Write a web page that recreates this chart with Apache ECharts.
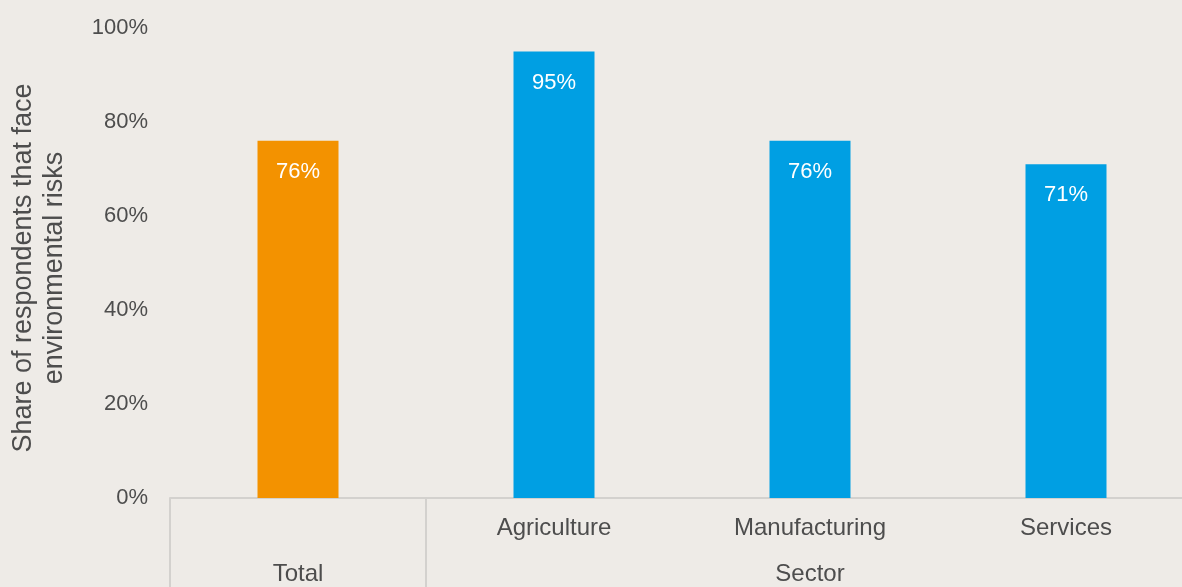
<!DOCTYPE html>
<html>
<head>
<meta charset="utf-8">
<script src="https://cdn.jsdelivr.net/npm/echarts@6/dist/echarts.min.js"></script>
<style>
  html, body { margin: 0; padding: 0; background: #EEEBE7; }
  #chart { width: 1182px; height: 587px; }
</style>
</head>
<body>
<div id="chart"></div>
<script>
// Survey shares by sector
const categories = ['', 'Agriculture', 'Manufacturing', 'Services'];
const groupLabels = ['Total', '', 'Sector', ''];
const values = [76, 95, 76, 71];
const yTicks = [0, 20, 40, 60, 80, 100];

const ORANGE = '#F39200';
const BLUE = '#009FE3';
const TEXT = '#4D4D4D';
const LINE = '#D3D1CE';

const chart = echarts.init(document.getElementById('chart'));

chart.setOption({
  backgroundColor: '#EEEBE7',
  textStyle: { fontFamily: 'Liberation Sans, Arial, sans-serif' },
  grid: {
    left: 170, top: 28, bottom: 89, width: 1024,
    containLabel: false,
    outerBoundsMode: 'none'
  },
  xAxis: [
    {
      type: 'category',
      data: categories,
      position: 'bottom',
      axisLine: { show: true, lineStyle: { color: LINE, width: 2 } },
      axisTick: { show: false },
      axisLabel: { color: TEXT, fontSize: 24, margin: 18, interval: 0 }
    },
    {
      type: 'category',
      data: groupLabels,
      position: 'bottom',
      offset: 0,
      axisLine: { show: false },
      axisTick: {
        show: true,
        length: 100,
        interval: function (i) { return i === 0 || i === 1; },
        lineStyle: { color: LINE, width: 2 }
      },
      axisLabel: { color: TEXT, fontSize: 24, margin: 64, interval: 0 }
    }
  ],
  yAxis: {
    type: 'value',
    min: yTicks[0],
    max: yTicks[yTicks.length - 1],
    interval: yTicks[1] - yTicks[0],
    axisLine: { show: false },
    axisTick: { show: false },
    splitLine: { show: false },
    axisLabel: { color: TEXT, fontSize: 22, margin: 22, formatter: '{value}%' },
    name: 'Share of respondents that face\nenvironmental risks',
    nameLocation: 'middle',
    nameGap: 100,
    nameRotate: 90,
    nameTextStyle: { color: TEXT, fontSize: 27, lineHeight: 31, padding: [0, 10, 0, 0] }
  },
  series: [{
    type: 'bar',
    xAxisIndex: 0,
    data: values,
    barWidth: 81,
    itemStyle: {
      color: function (p) { return p.dataIndex === 0 ? ORANGE : BLUE; }
    },
    label: {
      show: true,
      position: 'insideTop',
      distance: 20,
      color: '#FFFFFF',
      fontSize: 22,
      formatter: '{c}%'
    },
    animation: false
  }],
  animation: false
});
</script>
</body>
</html>
